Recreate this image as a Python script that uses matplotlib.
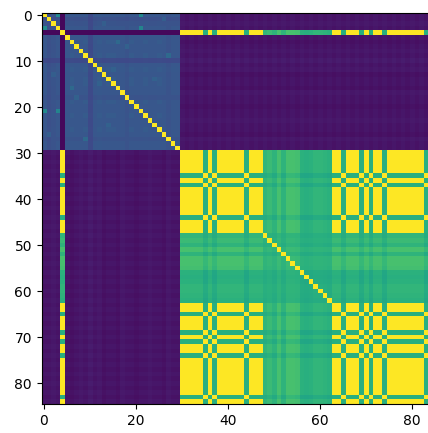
import matplotlib
matplotlib.use('Agg')
import matplotlib.pyplot as plt
import numpy as np

# tf-idf style similarity matrix, 85 documents
n_docs = 85
# first block, per document level against the rest of that block
first_levels = [0.27, 0.25, 0.26, 0.27, 0.03, 0.27, 0.28, 0.27, 0.27, 0.28,
                0.235, 0.27, 0.29, 0.27, 0.28, 0.28, 0.27, 0.27, 0.26, 0.28,
                0.27, 0.27, 0.28, 0.27, 0.27, 0.28, 0.27, 0.26, 0.27, 0.27]
# single cells that stand out in the first block
bright_cells = [(0, 3, 0.48), (0, 21, 0.48), (3, 21, 0.45), (6, 16, 0.34), (9, 27, 0.34),
                (12, 15, 0.31), (2, 13, 0.30), (7, 18, 0.31), (14, 24, 0.31), (1, 26, 0.30)]
# level of first block documents against the big second block (by row / by column)
cross_levels = [0.05, 0.05, 0.06, 0.05, 0.0, 0.05, 0.04, 0.05, 0.06, 0.05,
                0.065, 0.05, 0.06, 0.04, 0.05, 0.05, 0.04, 0.06, 0.05, 0.05,
                0.04, 0.05, 0.05, 0.06, 0.05, 0.05, 0.04, 0.06, 0.05, 0.05]
# second block
green_docs = [35, 37, 44, 65, 69, 71, 74, 83]
middle_docs = list(range(48, 63))
middle_levels = [0.66, 0.68, 0.65, 0.71, 0.65, 0.71, 0.71, 0.70,
                 0.64, 0.63, 0.64, 0.66, 0.66, 0.65, 0.64]
green_level = 0.63

matrix = np.zeros((n_docs, n_docs))
for i in range(n_docs):
    for j in range(n_docs):
        if i == j:
            matrix[i, j] = 1.0
            continue
        first_i = i < 30 and i != 4
        first_j = j < 30 and j != 4
        if first_i and first_j:
            matrix[i, j] = min(first_levels[i], first_levels[j]) + (first_levels[i] + first_levels[j] - 0.54) * 0.3
        elif i == 4 and j < 30 or j == 4 and i < 30:
            matrix[i, j] = 0.02
        elif first_i:
            matrix[i, j] = cross_levels[i] if j % 2 else cross_levels[i] + 0.01
        elif first_j:
            matrix[i, j] = cross_levels[j] if i % 2 else cross_levels[j] + 0.01
        else:
            # documents from 30 on, plus document 4
            if i in middle_docs and j in middle_docs:
                matrix[i, j] = (middle_levels[i - 48] + middle_levels[j - 48]) / 2 - 0.03
            elif i in middle_docs:
                matrix[i, j] = middle_levels[i - 48] - (0.04 if j in green_docs else 0)
            elif j in middle_docs:
                matrix[i, j] = middle_levels[j - 48] - (0.04 if i in green_docs else 0)
            elif (i in green_docs) == (j in green_docs):
                matrix[i, j] = 1.0
            else:
                matrix[i, j] = green_level
for i, j, value in bright_cells:
    matrix[i, j] = value
    matrix[j, i] = value

fig = plt.figure(figsize=(4.28, 4.33), dpi=100)
# axes runs past the right edge, the original image is cropped there
ax = fig.add_axes([41.2 / 428, 29 / 433, 392 / 428, 391 / 433])
ax.imshow(matrix, cmap='viridis', vmin=0, vmax=1)
ax.set_xticks([0, 20, 40, 60, 80])
ax.set_yticks([0, 10, 20, 30, 40, 50, 60, 70, 80])
fig.savefig('out.png', dpi=100)
